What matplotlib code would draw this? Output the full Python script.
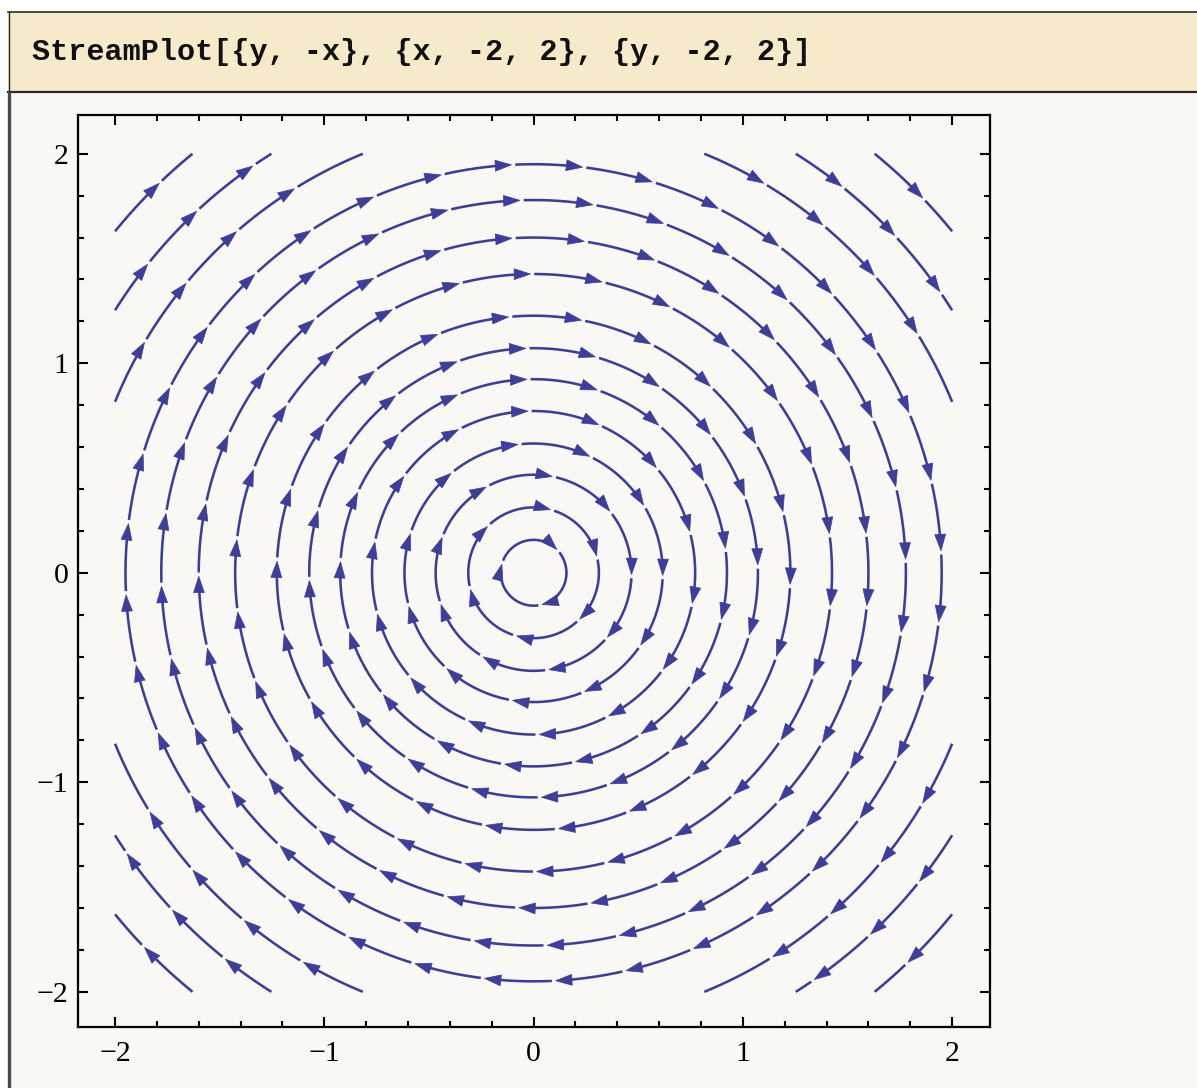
"""StreamPlot of the rotation field (y, -x), drawn in the Mathematica notebook look."""

import numpy as np
import matplotlib
matplotlib.use("Agg")
import matplotlib.pyplot as plt
from matplotlib.collections import LineCollection, PolyCollection
from matplotlib.patches import Rectangle
from matplotlib.lines import Line2D

# --- data ---
circle_radii = [0.157, 0.312, 0.468, 0.617, 0.772, 0.924, 1.072, 1.227, 1.426, 1.600, 1.779, 1.950]
circle_arrows = [3, 6, 9, 11, 14, 17, 20, 22, 26, 29, 32, 36]
circle_tip_deg = [45, 75, 79, 97, 92, 92, 92, 95.6, 90.6, 93.7, 92.1, 93.1]

# arcs that leave the square, given for the top-left corner; the other corners are 90 deg turns
corner_radii = [2.16, 2.36, 2.58]
corner_tip_deg = [149.4, 141.4, 133.9]
corner_turns_deg = [0, -90, -180, -270]

x_ticks = [-2, -1, 0, 1, 2]
y_ticks = [-2, -1, 0, 1, 2]
header = "StreamPlot[{y, -x}, {x, -2, 2}, {y, -2, 2}]"

STREAM = "#3d3d9c"
SEG = 0.345     # arc length between arrow tips
GAP = 0.018     # gap after each arrow tip
HEAD_L = 0.078
HEAD_W = 0.026


def arc_pts(r, a0, a1, n=40):
    t = np.linspace(a0, a1, n)
    return np.column_stack([r * np.cos(t), r * np.sin(t)])


def head(r, a):
    tip = np.array([r * np.cos(a), r * np.sin(a)])
    tang = np.array([np.sin(a), -np.cos(a)])       # clockwise direction
    nrm = np.array([np.cos(a), np.sin(a)])
    base = tip - HEAD_L * tang
    return [tip, base + HEAD_W * nrm, base - HEAD_W * nrm]


def stream(r, tips, start, end, lines, heads):
    """tips: arrow angles (rad), travelling clockwise from start to end."""
    prev = start
    for a in tips:
        a0 = min(prev, start)
        a1 = a + HEAD_L * 0.5 / r
        if a0 > a1:
            lines.append(arc_pts(r, a0, a1))
        heads.append(head(r, a))
        prev = a - GAP / r
    if prev > end:
        lines.append(arc_pts(r, prev, end))


lines, heads = [], []
for r, n, d in zip(circle_radii, circle_arrows, circle_tip_deg):
    step = 2 * np.pi / n
    a_first = np.radians(d)
    tips = [a_first - k * step for k in range(n)]
    stream(r, tips, a_first + step - GAP / r, tips[-1], lines, heads)

for r, d in zip(corner_radii, corner_tip_deg):
    h = np.sqrt(r ** 2 - 4)
    a_start = np.arctan2(h, -2)     # enters on x = -2
    a_end = np.arctan2(2, -h)       # leaves on y = 2
    step = SEG / r
    base = np.radians(d)
    k0 = int(np.floor((a_start - base) / step))
    tips_tl = [base + k * step for k in range(k0, -50, -1)]
    tips_tl = [a for a in tips_tl if a_end + HEAD_L / r < a < a_start]
    for turn in corner_turns_deg:
        rot = np.radians(turn)
        stream(r, [a + rot for a in tips_tl], a_start + rot, a_end + rot, lines, heads)

# --- figure ---
W, H = 1197, 1088
fig = plt.figure(figsize=(W / 100, H / 100), dpi=100)
fig.patch.set_facecolor("white")


def fx(px):
    return px / W


def fy(py):
    return 1 - py / H


# notebook cell frames (kept under the axes)
fig.patches.append(Rectangle((fx(8), fy(1088)), fx(1197 - 8), fy(93) - fy(1088), zorder=-5,
                             transform=fig.transFigure, facecolor="#f9f8f4", edgecolor="none"))
fig.patches.append(Rectangle((fx(8), fy(91)), fx(1197 - 8), fy(11) - fy(91), zorder=-5,
                             transform=fig.transFigure, facecolor="#f5ebca", edgecolor="none"))
fig.lines.append(Line2D([fx(8), 1], [fy(11.5), fy(11.5)], transform=fig.transFigure,
                        color="#2a2a2a", lw=1.2, zorder=-4))
fig.lines.append(Line2D([fx(8.5), fx(8.5)], [fy(11.5), fy(91)], transform=fig.transFigure,
                        color="#2a2a2a", lw=1.0, zorder=-4))
fig.lines.append(Line2D([fx(8), 1], [fy(91.5), fy(91.5)], transform=fig.transFigure,
                        color="#2a2a2a", lw=1.6, zorder=-4))
fig.lines.append(Line2D([fx(9), fx(9)], [fy(93), 0], transform=fig.transFigure,
                        color="#4a4a4a", lw=2.4, zorder=-4))
fig.text(fx(32), fy(52), header, family="Liberation Mono", weight="bold", size=21.7,
         va="center", ha="left", color="#111111")

ax = fig.add_axes([fx(78), fy(1027), fx(990 - 78), fy(115) - fy(1027)])
ax.set_facecolor("#f9f8f4")
ax.add_collection(LineCollection(lines, colors=STREAM, linewidths=1.85, capstyle="butt"))
ax.add_collection(PolyCollection(heads, facecolors=STREAM, edgecolors=STREAM, linewidths=0.5))

ax.set_xlim(-2.177, 2.181)
ax.set_ylim(-2.168, 2.185)
ax.set_xticks(x_ticks)
ax.set_yticks(y_ticks)
ax.set_xticks(np.arange(-2, 2.01, 0.2), minor=True)
ax.set_yticks(np.arange(-2, 2.01, 0.2), minor=True)
ax.tick_params(which="both", direction="in", top=True, right=True, color="black", width=1.5)
ax.tick_params(which="major", length=7.5)
ax.tick_params(which="minor", length=4.5)
ax.tick_params(axis="x", which="major", pad=10)
ax.tick_params(axis="y", which="major", pad=7)
for lab in ax.get_xticklabels() + ax.get_yticklabels():
    lab.set_family("Liberation Serif")
    lab.set_fontsize(21.5)
for s in ax.spines.values():
    s.set_linewidth(1.6)

fig.savefig("out.png", dpi=100, facecolor=fig.get_facecolor())
